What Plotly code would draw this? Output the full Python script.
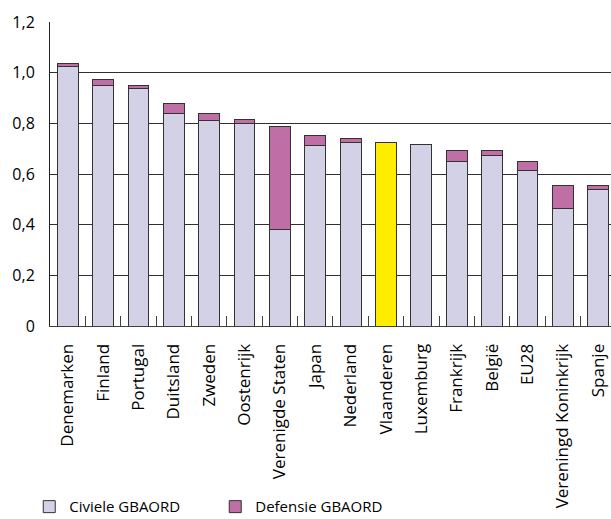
import plotly.graph_objects as go

categories = ["Denemarken", "Finland", "Portugal", "Duitsland", "Zweden", "Oostenrijk",
              "Verenigde Staten", "Japan", "Nederland", "Vlaanderen", "Luxemburg",
              "Frankrijk", "België", "EU28", "Vereningd Koninkrijk", "Spanje"]
civiel = [1.026, 0.950, 0.938, 0.838, 0.812, 0.800, 0.379, 0.713, 0.725, 0.726, 0.715,
          0.651, 0.675, 0.615, 0.465, 0.540]
defensie = [0.011, 0.024, 0.013, 0.040, 0.028, 0.015, 0.409, 0.038, 0.016, 0.0, 0.0,
            0.040, 0.016, 0.036, 0.088, 0.013]
highlight = "Vlaanderen"

y_ticks = [0, 0.2, 0.4, 0.6, 0.8, 1.0, 1.2]
y_labels = ["0", "0,2", "0,4", "0,6", "0,8", "1,0", "1,2"]

civ_color = "#D3D1E6"
def_color = "#BF6FA5"
hl_color = "#FFED00"
civ_colors = [hl_color if c == highlight else civ_color for c in categories]

fig = go.Figure()
fig.add_trace(go.Bar(x=categories, y=civiel, name="Civiele GBAORD",
                     marker=dict(color=civ_colors, line=dict(color="#333333", width=1))))
fig.add_trace(go.Bar(x=categories, y=defensie, name="Defensie GBAORD",
                     marker=dict(color=def_color, line=dict(color="#333333", width=1))))

font = "Open Sans, sans-serif"
fig.update_layout(
    barmode="stack",
    bargap=0.41,
    width=611, height=527,
    margin=dict(l=50, r=0, t=22, b=201),
    paper_bgcolor="white", plot_bgcolor="white",
    font=dict(family=font, size=15, color="black"),
    showlegend=True,
    legend=dict(orientation="h", x=-0.037, xanchor="left", y=-0.595, yanchor="middle",
                font=dict(size=15), entrywidth=141, entrywidthmode="pixels",
                traceorder="normal"),
    xaxis=dict(range=[-0.5, 15.36], tickangle=-90, ticks="inside", tickson="boundaries",
               ticklen=10, tickcolor="#404040", showline=True, linecolor="#404040",
               linewidth=1, showgrid=False, tickfont=dict(size=17), automargin=False,
               ticklabelstandoff=10),
    yaxis=dict(range=[0, 1.2], tickvals=y_ticks, ticktext=y_labels, showgrid=True,
               gridcolor="#303030", gridwidth=1, showline=True, linecolor="#202020",
               linewidth=1, ticks="", tickfont=dict(size=16), zeroline=False,
               automargin=False, ticklabelstandoff=11),
)

fig.write_html("out.html", config={"displayModeBar": False})
with open("out.html", "r", encoding="utf-8") as f:
    html = f.read()
html = html.replace("<body>", '<body style="margin:0;padding:0;overflow:hidden;">', 1)
with open("out.html", "w", encoding="utf-8") as f:
    f.write(html)
